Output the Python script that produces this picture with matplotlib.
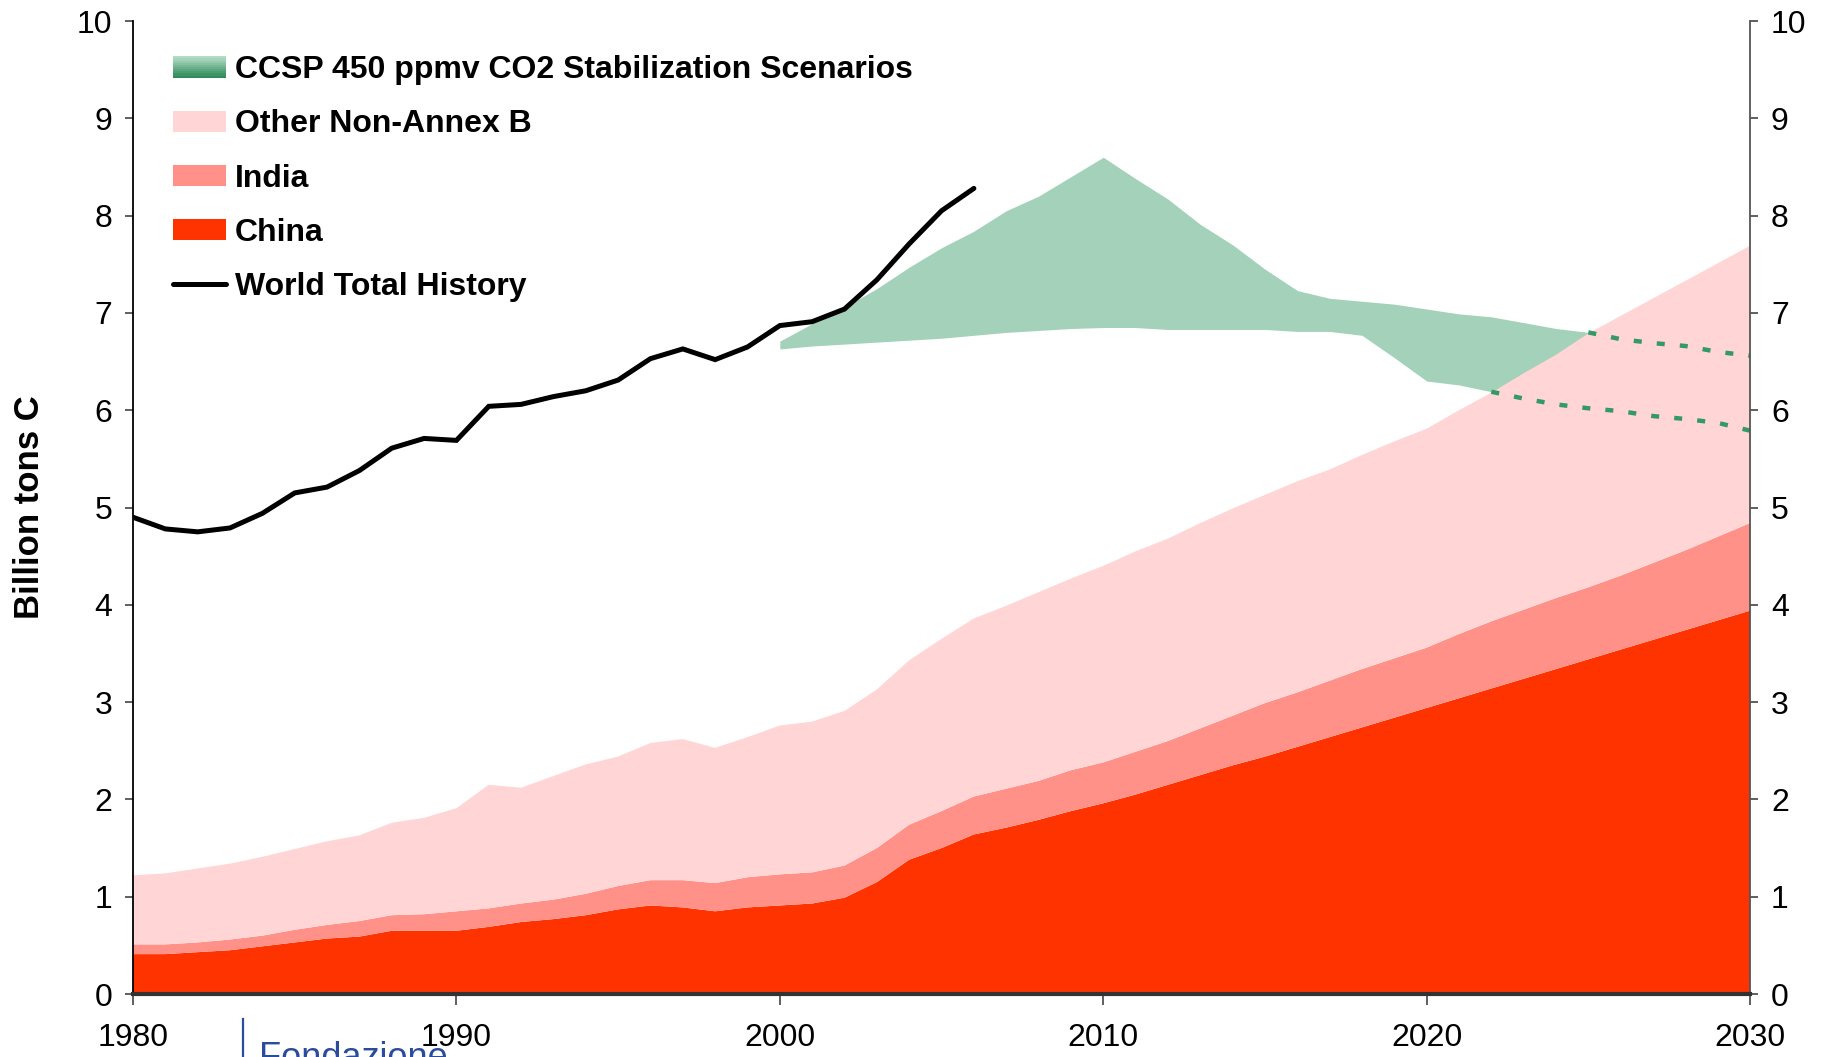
"""Non-Annex B fossil carbon emissions vs CCSP 450 ppmv stabilization range."""

import matplotlib

matplotlib.use("Agg")
import matplotlib.pyplot as plt
from matplotlib.colors import to_rgb
from matplotlib.legend_handler import HandlerBase
from matplotlib.lines import Line2D
from matplotlib.patches import Patch, Rectangle

plt.rcParams["font.family"] = ["Liberation Sans", "DejaVu Sans"]

YEARS = list(range(1980, 2031))

# billion tons C, per region (stacked: China, India, other non-Annex B)
CHINA = [0.41, 0.41, 0.43, 0.45, 0.49, 0.53, 0.57, 0.59, 0.65, 0.65,
         0.65, 0.69, 0.74, 0.77, 0.81, 0.87, 0.91, 0.89, 0.85, 0.89,
         0.91, 0.93, 0.99, 1.15, 1.38, 1.50, 1.64, 1.71, 1.79, 1.88,
         1.96, 2.05, 2.15, 2.25, 2.35, 2.44, 2.54, 2.64, 2.74, 2.84,
         2.94, 3.04, 3.14, 3.24, 3.34, 3.44, 3.54, 3.64, 3.74, 3.84,
         3.94]
INDIA = [0.10, 0.10, 0.10, 0.11, 0.11, 0.13, 0.14, 0.16, 0.16, 0.17,
         0.20, 0.19, 0.19, 0.20, 0.22, 0.24, 0.26, 0.28, 0.29, 0.31,
         0.32, 0.32, 0.33, 0.35, 0.36, 0.38, 0.39, 0.40, 0.40, 0.42,
         0.42, 0.44, 0.45, 0.48, 0.51, 0.55, 0.56, 0.58, 0.60, 0.61,
         0.62, 0.66, 0.69, 0.71, 0.73, 0.74, 0.76, 0.79, 0.82, 0.86,
         0.90]
OTHER = [0.71, 0.73, 0.76, 0.78, 0.81, 0.83, 0.86, 0.88, 0.95, 0.99,
         1.06, 1.27, 1.19, 1.27, 1.33, 1.33, 1.41, 1.45, 1.39, 1.44,
         1.53, 1.55, 1.59, 1.63, 1.69, 1.77, 1.83, 1.88, 1.94, 1.97,
         2.02, 2.06, 2.08, 2.11, 2.13, 2.14, 2.17, 2.17, 2.20, 2.23,
         2.25, 2.30, 2.35, 2.43, 2.50, 2.61, 2.67, 2.72, 2.77, 2.81,
         2.85]

HIST_YEARS = list(range(1980, 2007))
WORLD_TOTAL = [4.90, 4.78, 4.75, 4.79, 4.94, 5.15, 5.21, 5.38, 5.61, 5.71,
               5.69, 6.04, 6.06, 6.14, 6.20, 6.31, 6.53, 6.63, 6.52, 6.65,
               6.87, 6.91, 7.04, 7.34, 7.71, 8.05, 8.28]

# CCSP 450 ppmv stabilization range, 2000-2030
CCSP_YEARS = list(range(2000, 2031))
CCSP_HIGH = [6.71, 6.89, 7.06, 7.25, 7.47, 7.67, 7.84, 8.05, 8.20, 8.40,
             8.60, 8.38, 8.17, 7.91, 7.70, 7.45, 7.23, 7.15, 7.12, 7.09,
             7.04, 6.99, 6.96, 6.90, 6.84, 6.80, 6.73, 6.69, 6.66, 6.60,
             6.56]
CCSP_LOW = [6.63, 6.66, 6.68, 6.70, 6.72, 6.74, 6.77, 6.80, 6.82, 6.84,
            6.85, 6.85, 6.83, 6.83, 6.83, 6.83, 6.81, 6.81, 6.77, 6.54,
            6.30, 6.26, 6.19, 6.12, 6.06, 6.02, 5.99, 5.94, 5.91, 5.87,
            5.79]
CCSP_SHADE_END = 2025   # band is shaded up to here, then dashed
HIGH_DASH_FROM = 2025   # where the bounds disappear behind the pink area
LOW_DASH_FROM = 2022

LABELS = ["CCSP 450 ppmv CO2 Stabilization Scenarios", "Other Non-Annex B",
          "India", "China", "World Total History"]

C_CHINA = "#ff3300"
C_INDIA = "#ff9189"
C_OTHER = "#ffd5d5"
C_BAND = "#a3d1b9"
C_DASH = "#339966"


class _GradientHandler(HandlerBase):
    """Legend key as a vertical light->dark green gradient."""

    def create_artists(self, legend, orig_handle, xdescent, ydescent,
                       width, height, fontsize, trans):
        top = to_rgb("#b3dcc6")
        bot = to_rgb("#2e8b5a")
        n = 10
        out = []
        for i in range(n):
            t = i / (n - 1)
            col = tuple(bot[k] * (1 - t) + top[k] * t for k in range(3))
            out.append(Rectangle((-xdescent, -ydescent + i * height / n),
                                 width, height / n + 0.3, facecolor=col,
                                 edgecolor="none", transform=trans))
        return out


def main() -> None:
    fig = plt.figure(figsize=(18.27, 10.57), dpi=100)
    ax = fig.add_axes([0.0728, 0.0596, 0.8851, 0.9205])

    # scenario band sits behind the stacked areas
    shade = [i for i, y in enumerate(CCSP_YEARS) if y <= CCSP_SHADE_END]
    ax.fill_between([CCSP_YEARS[i] for i in shade],
                    [CCSP_LOW[i] for i in shade],
                    [CCSP_HIGH[i] for i in shade],
                    color=C_BAND, linewidth=0, zorder=1)

    ax.stackplot(YEARS, CHINA, INDIA, OTHER,
                 colors=[C_CHINA, C_INDIA, C_OTHER], linewidth=0, zorder=2)

    hi = [i for i, y in enumerate(CCSP_YEARS) if y >= HIGH_DASH_FROM]
    lo = [i for i, y in enumerate(CCSP_YEARS) if y >= LOW_DASH_FROM]
    for idx, vals in ((hi, CCSP_HIGH), (lo, CCSP_LOW)):
        ax.plot([CCSP_YEARS[i] for i in idx], [vals[i] for i in idx],
                color=C_DASH, linewidth=3.2, dashes=(1.8, 3.4), zorder=3)

    ax.plot(HIST_YEARS, WORLD_TOTAL, color="black", linewidth=3.6,
            solid_joinstyle="miter", solid_capstyle="round", zorder=4)

    ax.set_xlim(1980, 2030)
    ax.set_ylim(0, 10)
    ax.set_xticks(range(1980, 2031, 10))
    ax.set_yticks(range(0, 11))
    ax.tick_params(axis="x", direction="out", length=8, width=1.2,
                   pad=13, labelsize=23, color="#444444")
    ax.tick_params(axis="y", direction="out", length=6, width=1.2,
                   pad=9, labelsize=23, color="#444444",
                   right=True, labelright=True)
    ax.spines["top"].set_visible(False)
    ax.spines["left"].set_color("black")
    ax.spines["left"].set_linewidth(1.3)
    ax.spines["right"].set_color("#555555")
    ax.spines["right"].set_linewidth(1.3)
    ax.spines["bottom"].set_color("#333333")
    ax.spines["bottom"].set_linewidth(3)
    for s in ax.spines.values():
        s.set_zorder(5)

    fig.text(0.016, 0.52, "Billion tons C", rotation=90, fontsize=25,
             fontweight="bold", ha="center", va="center")

    handles = [Patch(), Patch(facecolor=C_OTHER), Patch(facecolor=C_INDIA),
               Patch(facecolor=C_CHINA),
               Line2D([], [], color="black", linewidth=3.6,
                      solid_capstyle="round")]
    leg = ax.legend(handles, LABELS, loc="upper left",
                    bbox_to_anchor=(0.017, 0.978), frameon=False,
                    prop={"size": 23, "weight": "bold"},
                    handlelength=1.65, handleheight=0.65, handletextpad=0.28,
                    labelspacing=0.76, borderaxespad=0.0,
                    handler_map={handles[0]: _GradientHandler()})
    leg.set_zorder(6)

    # partially cropped logo at the bottom edge
    fig.add_artist(Line2D([243 / 1827, 243 / 1827], [0, 1 - 1019 / 1057],
                          transform=fig.transFigure, color="#2b4b9b",
                          linewidth=1.6))
    fig.text(259 / 1827, 1 - 1041 / 1057, "Fondazione", color="#2b4b9b",
             fontsize=26, ha="left", va="top")

    fig.savefig("out.png", dpi=100)
    plt.close(fig)


if __name__ == "__main__":
    main()
